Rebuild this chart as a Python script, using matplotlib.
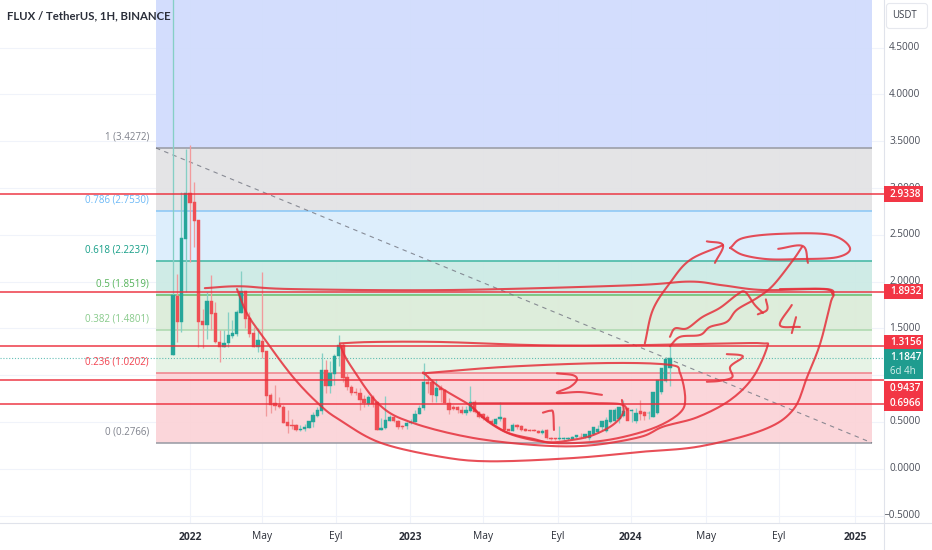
import numpy as np
import matplotlib
matplotlib.use("Agg")
import matplotlib.pyplot as plt
from matplotlib.patches import FancyBboxPatch, Rectangle

plt.rcParams['font.family'] = ['Open Sans', 'DejaVu Sans']

# weekly candles: open, close, high, low (USDT)
opens = [1.216,1.85,1.572,2.46,2.95,2.85,2.66,1.58,1.54,1.79,1.66,1.355,1.30,1.34,1.42,1.44,1.66,1.90,1.61,1.45,
         1.305,1.37,1.26,0.785,0.70,0.68,0.66,0.50,0.47,0.465,0.415,0.425,0.44,0.50,0.565,0.62,1.055,0.885,1.01,1.20,
         1.32,0.98,
         0.87,0.825,0.806,0.745,0.693,0.77,0.717,0.415,0.432,0.515,0.557,0.515,0.46,0.458,0.49,0.505,0.585,0.646,
         0.93,0.93,0.778,0.86,0.84,0.707,0.657,0.657,0.628,0.60,0.617,0.717,0.61,0.59,0.557,0.515,0.48,0.53,0.54,0.42,
         0.405,0.468,0.457,0.43,0.415,0.415,0.405,0.38,0.415,0.33,0.325,0.315,0.32,0.32,0.32,0.335,0.337,0.345,0.325,0.37,
         0.39,0.45,0.405,0.50,0.515,0.53,0.565,0.645,0.62,0.515,0.62,0.61,0.60,0.556,0.60,0.817,0.94,1.08,1.15]
closes = [1.857,1.572,2.47,2.95,2.84,2.65,1.57,1.54,1.79,1.655,1.35,1.305,1.34,1.43,1.45,1.68,1.90,1.60,1.44,1.305,
          1.375,1.25,0.78,0.68,0.67,0.655,0.49,0.46,0.46,0.415,0.43,0.45,0.51,0.575,0.63,1.055,0.88,1.02,1.21,1.32,
          0.97,0.87,
          0.813,0.806,0.735,0.70,0.77,0.693,0.415,0.436,0.52,0.557,0.515,0.45,0.445,0.493,0.503,0.585,0.653,0.93,
          0.91,0.788,0.86,0.84,0.707,0.628,0.642,0.628,0.60,0.628,0.717,0.61,0.557,0.54,0.515,0.487,0.53,0.555,0.415,0.405,
          0.468,0.443,0.415,0.408,0.408,0.405,0.386,0.407,0.326,0.315,0.315,0.33,0.33,0.33,0.345,0.36,0.335,0.37,0.40,
          0.45,0.43,0.515,0.52,0.628,0.63,0.657,0.617,0.515,0.63,0.60,0.59,0.565,0.60,0.817,0.95,1.08,1.17,1.187]
highs = [5.02,2.08,2.96,3.42,3.46,3.06,2.66,1.71,1.89,2.07,1.78,1.48,1.48,1.68,1.59,1.70,2.11,1.90,1.68,1.52,
         1.50,2.10,1.26,0.81,0.90,0.77,0.68,0.63,0.53,0.475,0.47,0.48,0.515,0.61,0.66,1.24,1.16,1.155,1.23,1.43,
         1.34,1.02,
         0.895,0.86,0.86,0.79,0.79,0.79,0.72,0.54,0.78,0.575,0.564,0.52,0.47,0.50,0.53,0.63,0.68,1.127,
         1.0,0.955,0.955,0.895,0.85,0.753,0.68,0.67,0.67,0.67,0.88,0.73,0.62,0.60,0.57,0.53,0.54,0.71,0.55,0.43,
         0.485,0.48,0.47,0.44,0.42,0.42,0.41,0.43,0.42,0.34,0.33,0.46,0.34,0.34,0.35,0.36,0.38,0.36,0.39,0.41,
         0.47,0.47,0.55,0.56,0.65,0.64,0.74,0.66,0.64,0.65,0.74,0.62,0.62,0.62,0.835,0.96,1.19,1.32,1.27]
lows = [1.216,1.35,1.465,1.89,2.21,2.37,1.30,1.29,1.39,1.48,1.34,1.14,1.30,1.305,1.395,1.42,1.66,1.50,1.405,1.305,
        1.25,1.18,0.565,0.60,0.63,0.65,0.49,0.385,0.43,0.405,0.405,0.40,0.44,0.45,0.555,0.59,0.81,0.81,0.895,1.10,
        0.93,0.84,
        0.79,0.79,0.63,0.664,0.67,0.66,0.41,0.41,0.43,0.515,0.50,0.43,0.43,0.43,0.48,0.497,0.585,0.628,
        0.81,0.717,0.717,0.717,0.70,0.586,0.628,0.60,0.59,0.58,0.61,0.60,0.54,0.52,0.50,0.47,0.47,0.51,0.40,0.40,
        0.40,0.43,0.405,0.40,0.40,0.40,0.38,0.375,0.32,0.31,0.31,0.31,0.31,0.31,0.32,0.33,0.33,0.33,0.31,0.36,
        0.38,0.41,0.39,0.49,0.50,0.49,0.55,0.60,0.50,0.49,0.52,0.52,0.53,0.55,0.59,0.80,0.93,0.88,1.13]

n = min(len(opens), len(closes), len(highs), len(lows))
weeks = np.arange(n)

# fibonacci retracement
fib_ratio = ['1', '0.786', '0.618', '0.5', '0.382', '0.236', '0']
fib_price = [3.4272, 2.7530, 2.2237, 1.8519, 1.4801, 1.0202, 0.2766]
fib_line = ['#9a9ca5', '#8cc8f6', '#45b8a4', '#6bbf70', '#aed9b0', '#f0848d', '#9a9ca5']
fib_fill = ['#e3e3e5', '#dceefc', '#cdeae5', '#dcecd9', '#e6f3e5', '#fbd4d8']
fib_text = ['#787b86', '#64b5f6', '#089981', '#4caf50', '#81c784', '#f23645', '#787b86']
fib_top = 5.02
fib_top_fill = '#d1dcfd'
fib_start, fib_end = -4.0, 164.6

# horizontal levels
levels = [2.9338, 1.8932, 1.3156, 0.9437, 0.6966]
level_text = ['2.9338', '1.8932', '1.3156', '0.9437', '0.6966']
last_price = 1.1847

# axes ticks
y_ticks = [4.5, 4.0, 3.5, 3.0, 2.5, 2.0, 1.5, 1.0, 0.5, 0.0, -0.5]
y_hidden = [1.0]  # covered by the price boxes
x_ticks = [4.0, 20.96, 38.4, 55.8, 73.0, 90.65, 107.8, 125.5, 142.7, 160.6]
x_labels = ['2022', 'May', 'Eyl', '2023', 'May', 'Eyl', '2024', 'May', 'Eyl', '2025']
x_bold = ['2022', '2023', '2024', '2025']

# hand-drawn strokes: (week, price)
strokes = [
 [(15.07,1.92),(17.42,1.66),(21.19,1.41),(28.26,.98),(34.61,.68),(39.32,.52),(48.74,.28),(62.87,.13),(74.64,.08),
  (94.2,.115),(109.96,.18),(124.1,.24),(138.9,.415),(146,.63),(149.3,.98),(152.4,1.34),(154.8,1.77),(155.5,1.86),(154,1.92),(142.9,1.92)],
 [(7.5,1.93),(15.8,1.95),(28.3,1.92),(65.2,1.91),(107.6,1.96),(121.7,2.0),(129.5,1.96),(138.9,1.91),(153.1,1.92),(155.5,1.86)],
 [(39.3,1.32),(41.7,1.11),(48.7,.68),(56.5,.49),(70.6,.33),(86.4,.25),(98.2,.25),(110,.34),(115.4,.45),(123.4,.55),
  (131.2,.735),(136.6,.98),(139.9,1.30),(138.9,1.34),(131.2,1.34),(107.6,1.32),(86.4,1.32),(62.9,1.355),(47.1,1.355),(39.3,1.34)],
 [(58.9,1.03),(62.9,.87),(69.9,.68),(73,.55),(78.6,.39),(84.8,.32),(89.5,.275),(98.2,.285),(106,.34),(114,.45),
  (119.4,.60),(120.6,.755),(119.4,1.02),(117,1.11),(102.2,1.13),(78.6,1.09),(58.9,1.02)],
 [(70.4,.70),(86.4,.70),(102.2,.70),(106,.68),(106.9,.63)],
 [(70.6,.65),(74.6,.49),(80.1,.36),(88.1,.285),(94.2,.31),(98.9,.36),(103.6,.47),(106,.60),(105.7,.735)],
 [(87.1,.60),(88.8,.62),(89.5,.60),(89.7,.415)],
 [(90.4,1.02),(94.2,1.00),(95.1,.95),(93.5,.875),(90.4,.81),(95.8,.82),(101,.79)],
 [(130.4,1.225),(133.5,1.215),(134,1.185),(131.2,1.09),(131.7,.98),(128.8,.94),(125.7,.93)],
 [(145.7,1.75),(142.9,1.535),(147.6,1.515)],
 [(146.7,1.62),(145.7,1.45)],
 [(131.2,2.36),(134.2,2.465),(142.9,2.51),(154.7,2.50),(159.4,2.36),(156.3,2.26),(146.9,2.24),(139.9,2.24),(134.2,2.285),(131.2,2.36)],
 [(111.1,1.34),(113,1.70),(117,1.985),(121.7,2.23),(129.5,2.39)],
 [(125.7,2.43),(129.5,2.39),(127.6,2.20)],
 [(117,1.41),(118.2,1.50),(121,1.50),(124.6,1.62),(128.8,1.72),(132.8,1.86),(134.7,1.89),(137,1.75),(138.9,1.665)],
 [(137.7,1.65),(139.9,1.70),(139.6,1.81)],
 [(117,1.31),(119.4,1.41),(124.1,1.43),(126.4,1.515),(130.4,1.57),(132.8,1.70),(137.5,1.825),(141.3,1.96),(146,2.23),(148.1,2.37)],
 [(142.5,2.35),(148.3,2.38),(149.5,2.20)],
]

GREEN, RED = '#26a69a', '#ef4f55'
GREEN_WICK, RED_WICK = '#86cfc5', '#f19a9c'
W, H = 932, 550
PX = lambda v: v * 72 / 100  # pixels to points

fig = plt.figure(figsize=(W / 100, H / 100), dpi=100, facecolor='white')
ax = fig.add_axes([0, 1 - 523 / H, 884 / W, 523 / H])
ax.set_xlim(-40.73, 167.41)
ax.set_ylim((468.8 - 523) / 93.6, 468.8 / 93.6)

for s in ['top', 'left', 'bottom', 'right']:
    ax.spines[s].set_visible(False)

ax.set_xticks(x_ticks)
ax.set_xticklabels([])
ax.tick_params(length=0)
ax.set_yticks(y_ticks)
ax.yaxis.tick_right()
ax.set_yticklabels([])
ax.grid(True, color='#f0f3fa', lw=0.8, zorder=0)
ax.set_axisbelow(True)

# fib fills and lines
ax.fill_between([fib_start, fib_end], fib_price[0], fib_top, color=fib_top_fill, alpha=0.95, lw=0, zorder=1)
for i in range(len(fib_fill)):
    ax.fill_between([fib_start, fib_end], fib_price[i + 1], fib_price[i], color=fib_fill[i], alpha=0.95, lw=0, zorder=1)
for i, (r, p) in enumerate(zip(fib_ratio, fib_price)):
    ax.plot([fib_start, fib_end], [p, p], color=fib_line[i], lw=1.15, zorder=2, solid_capstyle='butt')
    ax.annotate(f'{r} ({p:.4f})', (fib_start, p), xytext=(-5.0, 11 * 0.72),
                textcoords='offset points', ha='right', va='center', fontsize=7.0,
                color=fib_text[i], alpha=0.95, zorder=6)

# last price dotted
ax.axhline(last_price, color=GREEN, lw=0.8, ls=(0, (1, 1.6)), alpha=0.7, zorder=3)

# trend line
ax.plot([fib_start, fib_end], [fib_price[0], fib_price[-1]], color='#787b86', lw=0.8,
        ls=(0, (4, 4)), alpha=0.85, zorder=3)

# candles
for i in range(n):
    up = closes[i] >= opens[i]
    ax.plot([weeks[i], weeks[i]], [lows[i], highs[i]], color=GREEN_WICK if up else RED_WICK, lw=0.95,
            zorder=4, solid_capstyle='butt')
    c = GREEN if up else RED
    ax.bar(weeks[i], closes[i] - opens[i], bottom=opens[i], width=0.78, color=c, lw=0.3, edgecolor=c, zorder=4.5)

# horizontal levels
for lv in levels:
    ax.axhline(lv, color='#ec2f3c', lw=1.1, alpha=0.95, zorder=5)


def smooth(pts, k=10):
    """Catmull-Rom smoothing of a hand-drawn stroke."""
    p = np.array(pts, float)
    if len(p) < 3:
        return p
    q = np.vstack([2 * p[0] - p[1], p, 2 * p[-1] - p[-2]])
    out = []
    for i in range(1, len(q) - 2):
        t = np.linspace(0, 1, k, endpoint=False)[:, None]
        p0, p1, p2, p3 = q[i - 1], q[i], q[i + 1], q[i + 2]
        out.append(0.5 * (2 * p1 + (p2 - p0) * t + (2 * p0 - 5 * p1 + 4 * p2 - p3) * t ** 2
                          + (3 * p1 - p0 - 3 * p2 + p3) * t ** 3))
    out.append(p[-1:])
    return np.vstack(out)


for s in strokes:
    xy = smooth(s)
    ax.plot(xy[:, 0], xy[:, 1], color='#e5303b', lw=1.5, alpha=0.85, zorder=5.5,
            solid_capstyle='round', solid_joinstyle='round')

# full-figure overlay in pixel space for axis furniture
ov = fig.add_axes([0, 0, 1, 1], facecolor='none')
ov.set_xlim(0, W)
ov.set_ylim(H, 0)
ov.axis('off')
ov.set_zorder(10)

ov.plot([884, 884], [0, H], color='#e0e3eb', lw=0.8, zorder=1)
ov.plot([0, W], [523, 523], color='#e0e3eb', lw=0.8, zorder=1)

ov.text(7, 16, 'FLUX / TetherUS, 1H, BINANCE', family='Lato', fontsize=8.2, fontweight='bold',
        color='#2a2e39', ha='left', va='center')

# x tick labels via axes transform
for xt, lb in zip(x_ticks, x_labels):
    ax.annotate(lb, (xt, 0), xycoords=('data', 'axes fraction'), xytext=(0, -PX(14)),
                textcoords='offset points', ha='center', va='center', fontsize=7.4,
                color='#131722', fontweight='bold' if lb in x_bold else 'normal',
                annotation_clip=False, alpha=0.9)

# y tick labels
for yt in y_ticks:
    if yt in y_hidden:
        continue
    lbl = f'{yt:.4f}'.replace('-', '\u2212')
    ax.annotate(lbl, (1, yt), xycoords=('axes fraction', 'data'), xytext=(PX(36.5), 0),
                textcoords='offset points', ha='right', va='center', fontsize=7.2,
                color='#4a4e59', annotation_clip=False)

# USDT button
ov.add_patch(FancyBboxPatch((886.5, 3.5), 41, 25, boxstyle='round,pad=0,rounding_size=3',
                            fc='white', ec='#e6e8ee', lw=0.8))
ov.text(904.5, 16, 'USDT', fontsize=6.9, color='#3c404b', ha='center', va='center')

# price boxes on the scale (TradingView nudges them apart)
box_nudge = [0, 0, -3, 8, 0]
for lv, txt, nudge in zip(levels, level_text, box_nudge):
    yc = H - ax.transData.transform((0, lv))[1] + nudge
    ov.add_patch(Rectangle((884, yc - 7.8), 39, 15.6, fc='#f23645', ec='none', zorder=3))
    ov.text(890, yc, txt, fontsize=7.2, fontweight='semibold', color='white', ha='left', va='center', zorder=4)

yc = H - ax.transData.transform((0, last_price))[1]
ov.add_patch(Rectangle((884, yc - 8.8), 39, 30, fc='#1f9c8f', ec='none', zorder=3))
ov.text(890, yc, f'{last_price:.4f}', fontsize=7.2, fontweight='semibold', color='white', ha='left', va='center', zorder=4)
ov.text(890, yc + 14, '6d 4h', fontsize=7.0, color='#d6f0ec', ha='left', va='center', zorder=4)

fig.savefig('out.png', dpi=100, facecolor='white')
